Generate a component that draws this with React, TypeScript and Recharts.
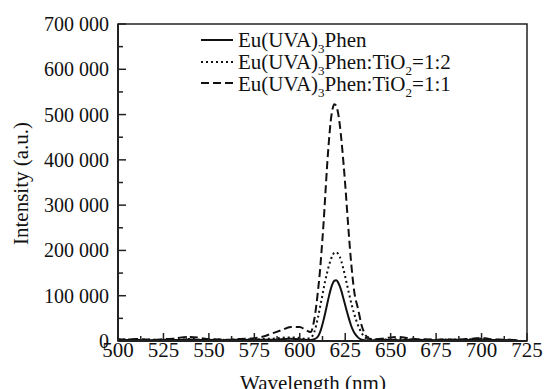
import React from 'react';
import { LineChart, Line, XAxis, YAxis, ReferenceArea, Legend } from 'recharts';

const wavelengths = [
  500, 505, 510, 515, 520, 525, 530, 535, 540, 545, 550, 555, 560, 565, 570, 575, 580, 585, 590, 595,
  600, 603, 606, 608, 610, 611, 612, 613, 614, 615, 616, 617, 618, 619, 620, 621, 622, 623, 624, 625,
  626, 627, 628, 629, 630, 632, 634, 636, 638, 640, 645, 650, 655, 660, 665, 670, 675, 680, 685, 690,
  695, 700, 705, 710, 715, 720,
];

const euPhen = [
  3000, 2000, 2500, 1500, 2000, 3000, 2000, 2500, 3500, 2000, 2500, 1500, 2000, 3000, 2500, 2000, 3000, 2500, 4000, 5000,
  4000, 2500, 2000, 4000, 10000, 18000, 30000, 45000, 62000, 80000, 98000, 114000, 126000, 133000, 134000, 130000, 121000, 109000, 94000, 79000,
  64000, 50000, 37000, 26000, 18000, 8000, 3000, 1500, 1000, 1500, 2000, 2500, 1500, 3000, 2000, 2500, 1500, 2000, 3000, 2000,
  2500, 3500, 2000, 2500, 1500, 1000,
];

const euPhenTiO2_12 = [
  2500, 3500, 2000, 3000, 2500, 2000, 3500, 3000, 4500, 3000, 2500, 3500, 2000, 3000, 4000, 3000, 4500, 5000, 7000, 8000,
  7000, 5000, 7000, 20000, 52000, 72000, 92000, 113000, 133000, 150000, 166000, 179000, 189000, 195000, 196000, 193000, 186000, 174000, 159000, 142000,
  124000, 106000, 89000, 73000, 59000, 35000, 18000, 8000, 4000, 3000, 3500, 3000, 4500, 3500, 2500, 3000, 2000, 3500, 2500, 3000,
  4000, 5000, 3000, 2000, 2500, 1500,
];

const euPhenTiO2_11 = [
  4000, 3000, 4500, 3500, 3000, 4000, 5000, 8000, 9000, 7000, 4000, 3500, 3000, 4000, 5000, 6000, 10000, 17000, 24000, 31000,
  31000, 25000, 20000, 48000, 110000, 150000, 200000, 255000, 320000, 385000, 440000, 485000, 512000, 523000, 520000, 505000, 478000, 440000, 395000, 345000,
  290000, 235000, 185000, 142000, 108000, 72000, 35000, 14000, 6000, 4000, 5000, 8000, 9000, 6000, 4000, 3500, 3000, 4000, 3000, 4000,
  5000, 7000, 4000, 3000, 2500, 2000,
];

const xTicks = [500, 512.5, 525, 537.5, 550, 562.5, 575, 587.5, 600, 612.5, 625, 637.5, 650, 662.5, 675, 687.5, 700, 712.5, 725];
const xMajorTicks = [500, 525, 550, 575, 600, 625, 650, 675, 700, 725];
const xTickLabels = ['500', '525', '550', '575', '600', '625', '650', '675', '700', '725'];

const yTicks = [0, 50000, 100000, 150000, 200000, 250000, 300000, 350000, 400000, 450000, 500000, 550000, 600000, 650000, 700000];
const yMajorTicks = [0, 100000, 200000, 300000, 400000, 500000, 600000, 700000];
const yTickLabels = ['0', '100 000', '200 000', '300 000', '400 000', '500 000', '600 000', '700 000'];

const data = wavelengths.map((w, i) => ({
  w,
  a: euPhen[i],
  b: euPhenTiO2_12[i],
  c: euPhenTiO2_11[i],
}));

const FONT = '"Liberation Serif", "Times New Roman", serif';
const INK = '#111';
const AXIS = '#222';

const XTick = (props: any) => {
  const { x, y, payload } = props;
  const idx = xMajorTicks.indexOf(payload.value);
  const major = idx >= 0;
  return (
    <g>
      <line x1={x} x2={x} y1={y} y2={y - (major ? 8 : 5)} stroke={AXIS} strokeWidth={1.5} />
      {major && (
        <text x={x} y={y + 16} textAnchor="middle" fontSize={21} fontFamily={FONT} fill={INK}>
          {xTickLabels[idx]}
        </text>
      )}
    </g>
  );
};

const YTick = (props: any) => {
  const { x, y, payload } = props;
  const idx = yMajorTicks.indexOf(payload.value);
  const major = idx >= 0;
  return (
    <g>
      <line x1={x} x2={x + (major ? 8 : 5)} y1={y} y2={y} stroke={AXIS} strokeWidth={1.5} />
      {major && (
        <text x={x - 9} y={y + 7} textAnchor="end" fontSize={20} fontFamily={FONT} fill={INK}>
          {yTickLabels[idx]}
        </text>
      )}
    </g>
  );
};

const series = [
  { key: 'a', dash: undefined as string | undefined, label: <>Eu(UVA)<Sub>3</Sub>Phen</> },
  { key: 'b', dash: '2 3', label: <>Eu(UVA)<Sub>3</Sub>Phen:TiO<Sub>2</Sub>=1:2</> },
  { key: 'c', dash: '8 4', label: <>Eu(UVA)<Sub>3</Sub>Phen:TiO<Sub>2</Sub>=1:1</> },
];

function Sub({ children }: { children: React.ReactNode }) {
  return <span style={{ fontSize: 13, position: 'relative', top: 6 }}>{children}</span>;
}

const LegendContent = () => (
  <div style={{ fontFamily: FONT, fontSize: 21, color: INK }}>
    {series.map((s) => (
      <div key={s.key} style={{ display: 'flex', alignItems: 'center', height: 21.7, whiteSpace: 'nowrap' }}>
        <svg width={32} height={22} style={{ marginRight: 5, display: 'block' }}>
          <line x1={0} x2={32} y1={10} y2={10} stroke={INK} strokeWidth={2} strokeDasharray={s.dash} />
        </svg>
        <span>{s.label}</span>
      </div>
    ))}
  </div>
);

export default function App() {
  return (
    <div style={{ position: 'absolute', left: 0, top: 0, width: 544, height: 389, background: '#fff' }}>
      <LineChart width={544} height={389} data={data} margin={{ top: 24, right: 17, left: 0, bottom: 0 }}>
        <XAxis
          dataKey="w"
          type="number"
          domain={[500, 725]}
          ticks={xTicks}
          interval={0}
          height={48}
          tickSize={0}
          tickMargin={0}
          tickLine={false}
          axisLine={{ stroke: AXIS, strokeWidth: 2 }}
          tick={<XTick />}
          allowDataOverflow
        />
        <YAxis
          type="number"
          domain={[0, 700000]}
          ticks={yTicks}
          interval={0}
          width={118}
          tickSize={0}
          tickMargin={0}
          tickLine={false}
          axisLine={{ stroke: AXIS, strokeWidth: 2 }}
          tick={<YTick />}
          allowDataOverflow
        />
        <ReferenceArea x1={500} x2={725} y1={0} y2={700000} fill="none" stroke={AXIS} strokeWidth={1.5} />
        <Legend
          layout="vertical"
          align="center"
          verticalAlign="middle"
          content={<LegendContent />}
          wrapperStyle={{ left: 201, top: 30, width: 'auto', height: 'auto' }}
        />
        <Line dataKey="a" name="Eu(UVA)3Phen" type="monotone" stroke={INK} strokeWidth={2} dot={false} isAnimationActive={false} />
        <Line dataKey="b" name="Eu(UVA)3Phen:TiO2=1:2" type="monotone" stroke={INK} strokeWidth={2} strokeDasharray="2 3" dot={false} isAnimationActive={false} />
        <Line dataKey="c" name="Eu(UVA)3Phen:TiO2=1:1" type="monotone" stroke={INK} strokeWidth={2} strokeDasharray="8 4" dot={false} isAnimationActive={false} />
      </LineChart>
      <svg width={544} height={389} style={{ position: 'absolute', left: 0, top: 0, pointerEvents: 'none' }}>
        <text x={313} y={390} textAnchor="middle" fontSize={21} fontFamily={FONT} fill={INK}>
          Wavelength (nm)
        </text>
        <text
          x={0}
          y={0}
          transform="translate(28 183.5) rotate(-90)"
          textAnchor="middle"
          fontSize={21}
          fontFamily={FONT}
          fill={INK}
        >
          Intensity (a.u.)
        </text>
      </svg>
    </div>
  );
}
